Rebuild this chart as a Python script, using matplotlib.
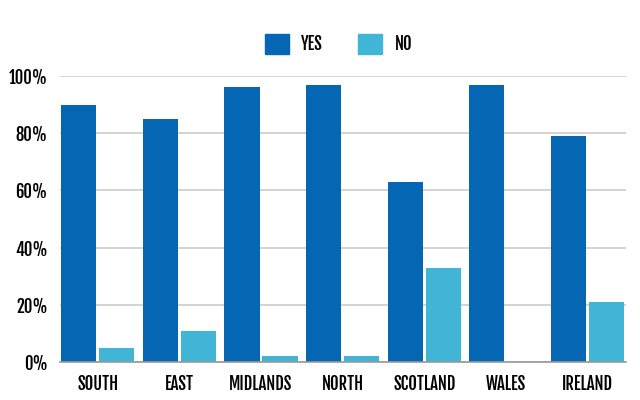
import matplotlib
matplotlib.use("Agg")
import matplotlib.pyplot as plt
import numpy as np
from matplotlib.patches import Patch

# --- data ---
regions = ["SOUTH", "EAST", "MIDLANDS", "NORTH", "SCOTLAND", "WALES", "IRELAND"]
yes_share = [0.90, 0.85, 0.96, 0.97, 0.63, 0.97, 0.79]
no_share = [0.05, 0.11, 0.02, 0.02, 0.33, 0.00, 0.21]
yticks = [0.0, 0.2, 0.4, 0.6, 0.8, 1.0]
ytick_labels = ["0%", "20%", "40%", "60%", "80%", "100%"]

YES_COLOR = "#0567b3"
NO_COLOR = "#41b5d6"
FONT = ["Fjalla One", "Oswald", "DejaVu Sans"]
FS = 12

plt.rcParams["font.family"] = FONT

fig = plt.figure(figsize=(6.4, 4.0), dpi=100)
ax = fig.add_axes([0.094, 0.095, 0.884, 0.715])

x = np.arange(len(regions))
width = 0.43
offset = 0.2325

ax.bar(x - offset, yes_share, width, color=YES_COLOR, zorder=3)
ax.bar(x + offset, no_share, width, color=NO_COLOR, zorder=3)

ax.set_xlim(-0.46, len(regions) - 1 + 0.47)
ax.set_ylim(0, 1.0)
ax.set_yticks(yticks)
ax.set_yticklabels(ytick_labels)
ax.set_xticks(x)
ax.set_xticklabels(regions)

ax.grid(axis="y", color="#cccccc", linewidth=1.2, zorder=0)
ax.set_axisbelow(True)
for side in ["top", "right", "left"]:
    ax.spines[side].set_visible(False)
ax.spines["bottom"].set_color("#999999")
ax.spines["bottom"].set_linewidth(1.2)
ax.spines["bottom"].set_zorder(4)

ax.tick_params(axis="both", length=0, labelsize=FS, colors="black")
ax.tick_params(axis="y", pad=9)
ax.tick_params(axis="x", pad=9)

handles = [Patch(color=YES_COLOR, label="YES"), Patch(color=NO_COLOR, label="NO")]
fig.legend(handles=handles, loc="center", bbox_to_anchor=(0.529, 0.89), ncol=2,
           frameon=False, fontsize=FS, handlelength=1.45, handleheight=1.45,
           handletextpad=0.75, columnspacing=2.1)

fig.savefig("out.png", dpi=100)
